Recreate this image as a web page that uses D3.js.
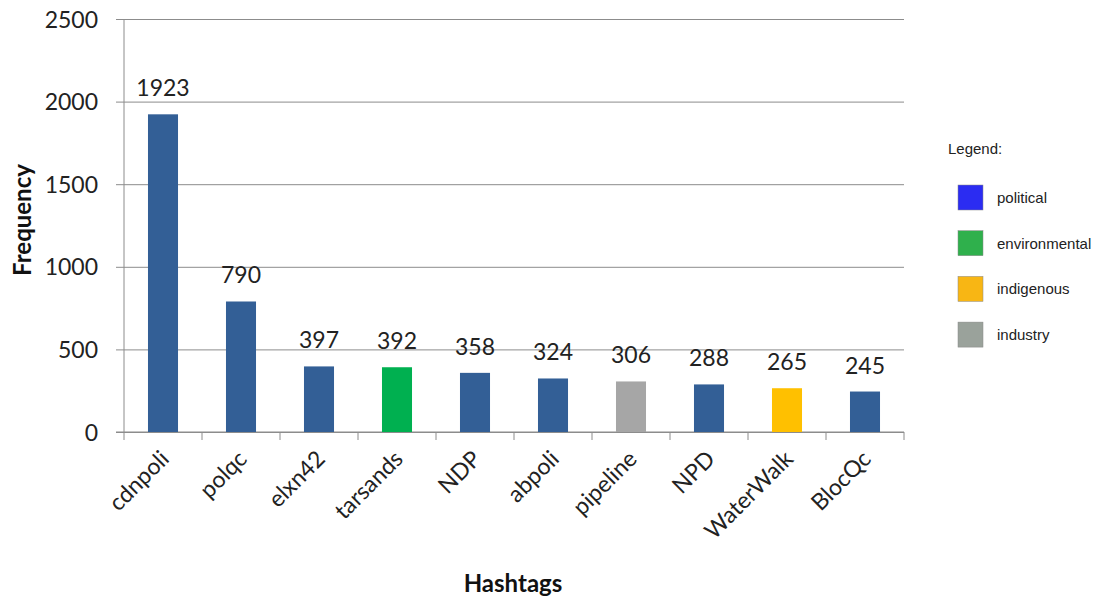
<!DOCTYPE html>
<html>
<head>
<meta charset="utf-8">
<script src="https://cdn.jsdelivr.net/npm/d3@7"></script>
<style>
  html, body { margin: 0; padding: 0; background: #ffffff; }
  svg { display: block; }
</style>
</head>
<body>
<svg id="chart" width="1102" height="600"></svg>
<script>
// Hashtag frequencies, with the theme each hashtag belongs to
const hashtags = ["cdnpoli", "polqc", "elxn42", "tarsands", "NDP", "abpoli", "pipeline", "NPD", "WaterWalk", "BlocQc"];
const frequencies = [1923, 790, 397, 392, 358, 324, 306, 288, 265, 245];
const themes = ["political", "political", "political", "environmental", "political", "political", "industry", "political", "indigenous", "political"];

// Y axis ticks
const yTicks = [0, 500, 1000, 1500, 2000, 2500];

// Legend entries and swatch colours
const legendLabels = ["political", "environmental", "indigenous", "industry"];
const legendColors = ["#2b2cf2", "#2fb04c", "#f8b614", "#9aa29b"];

// Bar fill per theme
const barColors = { political: "#335f96", environmental: "#00b050", indigenous: "#ffc000", industry: "#a6a6a6" };

const svg = d3.select("#chart");
const margin = { left: 124, right: 198, top: 19, bottom: 168 };
const W = 1102, H = 600;
const plotW = W - margin.left - margin.right;
const plotH = H - margin.top - margin.bottom;

const x = d3.scaleBand().domain(hashtags).range([0, plotW]).paddingInner(0.615).paddingOuter(0.3075);
const xOuter = d3.scaleBand().domain(hashtags).range([0, plotW]);
const y = d3.scaleLinear().domain([0, 2500]).range([plotH, 0]);

const g = svg.append("g").attr("transform", `translate(${margin.left},${margin.top})`);
const labelFont = "Lato, 'Open Sans', sans-serif";

// Horizontal gridlines with short outer ticks
const yAxis = d3.axisLeft(y).tickValues(yTicks).tickFormat(d3.format("d"))
  .tickSize(-plotW).tickSizeOuter(0).tickPadding(26);
const yg = g.append("g").call(yAxis);
yg.select(".domain").remove();
yg.selectAll(".tick line").attr("stroke", "#8c8c8c").attr("stroke-width", 1).attr("x1", -8);
yg.selectAll(".tick text")
  .attr("font-family", labelFont).attr("font-size", 23).attr("fill", "#222").attr("dy", "0.35em");

// Vertical axis line
g.append("line").attr("x1", 0).attr("x2", 0).attr("y1", 0).attr("y2", plotH)
  .attr("stroke", "#8c8c8c").attr("stroke-width", 1);

// Bottom axis with ticks at category boundaries
const bounds = hashtags.map(h => xOuter(h)).concat([plotW]);
g.append("line").attr("x1", -8).attr("x2", plotW).attr("y1", plotH).attr("y2", plotH)
  .attr("stroke", "#8c8c8c").attr("stroke-width", 1.2);
g.selectAll(".xtick").data(bounds).enter().append("line")
  .attr("x1", d => d).attr("x2", d => d).attr("y1", plotH).attr("y2", plotH + 8)
  .attr("stroke", "#8c8c8c").attr("stroke-width", 1);

// Bars
const data = hashtags.map((h, i) => ({ tag: h, value: frequencies[i], theme: themes[i] }));
g.selectAll(".bar").data(data).enter().append("rect")
  .attr("x", d => x(d.tag))
  .attr("y", d => y(d.value))
  .attr("width", x.bandwidth())
  .attr("height", d => plotH - y(d.value))
  .attr("fill", d => barColors[d.theme]);

// Value labels above bars
g.selectAll(".val").data(data).enter().append("text")
  .attr("x", d => x(d.tag) + x.bandwidth() / 2)
  .attr("y", d => y(d.value) - 18)
  .attr("text-anchor", "middle")
  .attr("font-family", labelFont).attr("font-size", 23).attr("fill", "#222")
  .text(d => d.value);

// Rotated category labels
g.selectAll(".cat").data(data).enter().append("text")
  .attr("transform", d => `translate(${x(d.tag) + x.bandwidth() / 2 - 4},${plotH + 17}) rotate(-45)`)
  .attr("text-anchor", "end")
  .attr("dy", "0.7em")
  .attr("font-family", labelFont).attr("font-size", 23).attr("fill", "#222")
  .text(d => d.tag);

// Axis titles
svg.append("text")
  .attr("transform", `translate(31,220) rotate(-90)`)
  .attr("text-anchor", "middle")
  .attr("font-family", labelFont).attr("font-weight", "bold").attr("font-size", 24).attr("fill", "#111")
  .text("Frequency");

svg.append("text")
  .attr("x", 513).attr("y", 592)
  .attr("text-anchor", "middle")
  .attr("font-family", labelFont).attr("font-weight", "bold").attr("font-size", 24).attr("fill", "#111")
  .text("Hashtags");

// Legend
const legendFont = "'Liberation Sans', Arial, sans-serif";
const lg = svg.append("g").attr("transform", "translate(948,0)");
lg.append("text").attr("x", 0).attr("y", 154)
  .attr("font-family", legendFont).attr("font-size", 15).attr("fill", "#222").text("Legend:");
const items = lg.selectAll(".item").data(legendLabels).enter().append("g")
  .attr("transform", (d, i) => `translate(0,${185 + i * 45.7})`);
items.append("rect").attr("x", 10).attr("y", 0).attr("width", 25).attr("height", 25)
  .attr("fill", (d, i) => legendColors[i]).attr("stroke", "#888").attr("stroke-width", 0.5);
items.append("text").attr("x", 49).attr("y", 18)
  .attr("font-family", legendFont).attr("font-size", 15).attr("fill", "#222")
  .text(d => d);
</script>
</body>
</html>
